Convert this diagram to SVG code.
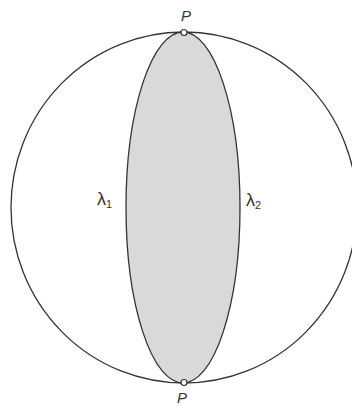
<svg xmlns="http://www.w3.org/2000/svg" width="352" height="406" viewBox="0 0 352 406">
<style>
.ln{fill:none;stroke:#333;stroke-width:1.3}
.lbl{font-family:"Liberation Sans",Arial,sans-serif;fill:#333}
.pt{fill:#fff;stroke:#333;stroke-width:1.2}
</style>
<rect width="352" height="406" fill="#fff"/>
<g id="sphere"><ellipse class="ln" cx="184" cy="207.5" rx="173" ry="175.5"/></g>
<g id="lune"><ellipse cx="183" cy="207.5" rx="57" ry="175.5" fill="#d9d9d9" stroke="#333" stroke-width="1.3"/></g>
<g id="P-top"><circle class="pt" cx="184" cy="32.5" r="3"/><text class="lbl" x="186" y="21" font-size="15" font-style="italic" text-anchor="middle">P</text></g>
<g id="P-bottom"><circle class="pt" cx="184" cy="382.5" r="3"/><text class="lbl" x="182" y="403" font-size="15" font-style="italic" text-anchor="middle">P</text></g>
<g id="lambda1"><text class="lbl" x="97" y="205" font-size="18">λ<tspan font-size="11" dy="3">1</tspan></text></g>
<g id="lambda2"><text class="lbl" x="246" y="206" font-size="18">λ<tspan font-size="11" dy="3">2</tspan></text></g>
</svg>
